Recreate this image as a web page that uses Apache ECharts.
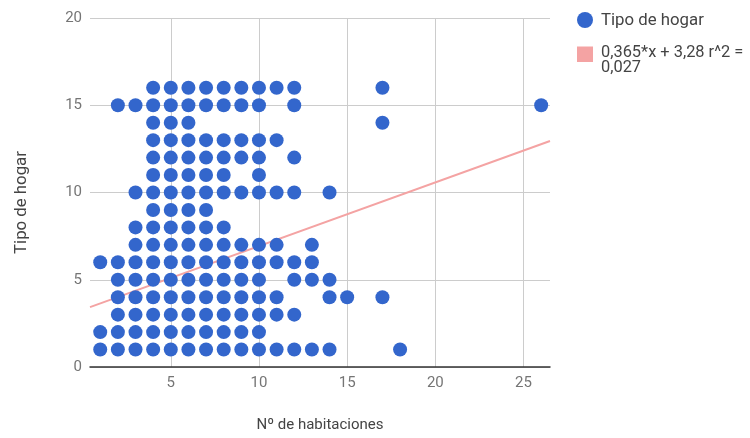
<!DOCTYPE html>
<html>
<head>
<meta charset="utf-8">
<script src="https://cdn.jsdelivr.net/npm/echarts@6/dist/echarts.min.js"></script>
<style>
html,body{margin:0;padding:0;background:#fff;}
#chart{width:750px;height:438px;}
</style>
</head>
<body>
<div id="chart"></div>
<script>
// Rows of points: y value (Tipo de hogar) -> list of x values (Nº de habitaciones)
const rowY = [16, 15, 14, 13, 12, 11, 10, 9, 8, 7, 6, 5, 4, 3, 2, 1];
const rowX = [
  [4,5,6,7,8,9,10,11,12,17],
  [2,3,4,5,6,7,8,9,10,12,26],
  [4,5,6,17],
  [4,5,6,7,8,9,10,11],
  [4,5,6,7,8,9,10,12],
  [4,5,6,7,8,10],
  [3,4,5,6,7,8,9,10,11,12,14],
  [4,5,6,7],
  [3,4,5,6,7,8],
  [3,4,5,6,7,8,9,10,11,13],
  [1,2,3,4,5,6,7,8,9,10,11,12,13],
  [2,3,4,5,6,7,8,9,10,12,13,14],
  [2,3,4,5,6,7,8,9,10,11,14,15,17],
  [2,3,4,5,6,7,8,9,10,11,12],
  [1,2,3,4,5,6,7,8,9,10],
  [1,2,3,4,5,6,7,8,9,10,11,12,13,14,18]
];
const seriesName = 'Tipo de hogar';
const trendLines = ['0,365*x + 3,28 r^2 =', '0,027'];
const trendSlope = 0.365;
const trendIntercept = 3.28;
const xTicks = [5, 10, 15, 20, 25];
const yTicks = [0, 5, 10, 15, 20];
const xTitle = 'Nº de habitaciones';
const yTitle = 'Tipo de hogar';

const xMin = 0.42, xMax = 26.5;
const points = [];
rowY.forEach((y, i) => rowX[i].forEach(x => points.push([x, y])));
const trend = [[xMin, trendSlope * xMin + trendIntercept], [xMax, trendSlope * xMax + trendIntercept]];

const blue = '#3366cc';
const pink = '#f4a3a3';
const font = 'Roboto, "Noto Sans", Arial, sans-serif';
const fs = 15;
const lfs = 16.4;

const chart = echarts.init(document.getElementById('chart'), null, {renderer: 'canvas'});
chart.setOption({
  animation: false,
  backgroundColor: '#fff',
  textStyle: {fontFamily: font},
  grid: {left: 90, right: 200, top: 18, bottom: 69},
  xAxis: {
    type: 'value', min: xMin, max: xMax,
    name: xTitle, nameLocation: 'middle', nameGap: 51,
    nameTextStyle: {color: '#444', fontSize: fs, fontFamily: font},
    axisLine: {show: true, onZero: false, lineStyle: {color: '#333', width: 1.5}},
    axisTick: {show: false, customValues: xTicks},
    axisLabel: {customValues: xTicks, color: '#757575', fontSize: fs, margin: 9, fontFamily: font},
    splitLine: {show: true, lineStyle: {color: '#cccccc', width: 1}}
  },
  yAxis: {
    type: 'value', min: 0, max: 20, interval: 5,
    axisLine: {show: false},
    axisTick: {show: false},
    axisLabel: {color: '#757575', fontSize: fs, margin: 8, fontFamily: font},
    splitLine: {show: true, lineStyle: {color: '#cccccc', width: 1}}
  },
  series: [
    {
      type: 'line', data: trend, symbol: 'none', silent: true,
      lineStyle: {color: pink, width: 2}, z: 1
    },
    {
      name: seriesName, type: 'scatter', data: points, symbolSize: 14,
      itemStyle: {color: blue, opacity: 1}, z: 2
    }
  ],
  graphic: [
    {type: 'text', x: 22, y: 202.5, rotation: Math.PI / 2,
     style: {text: yTitle, fill: '#444', font: '16.8px ' + font, textAlign: 'center', textVerticalAlign: 'middle'}},
    {type: 'circle', shape: {cx: 585, cy: 20, r: 8}, style: {fill: blue}},
    {type: 'text', x: 601, y: 21, style: {text: seriesName, fill: '#444', font: '16.8px ' + font, textVerticalAlign: 'middle'}},
    {type: 'rect', shape: {x: 577, y: 46.5, width: 16, height: 15.5}, style: {fill: pink}},
    {type: 'text', x: 601, y: 46, style: {text: trendLines.join('\n'), fill: '#444', font: lfs + 'px ' + font, lineHeight: 14.5, textVerticalAlign: 'top'}}
  ]
});
</script>
</body>
</html>
